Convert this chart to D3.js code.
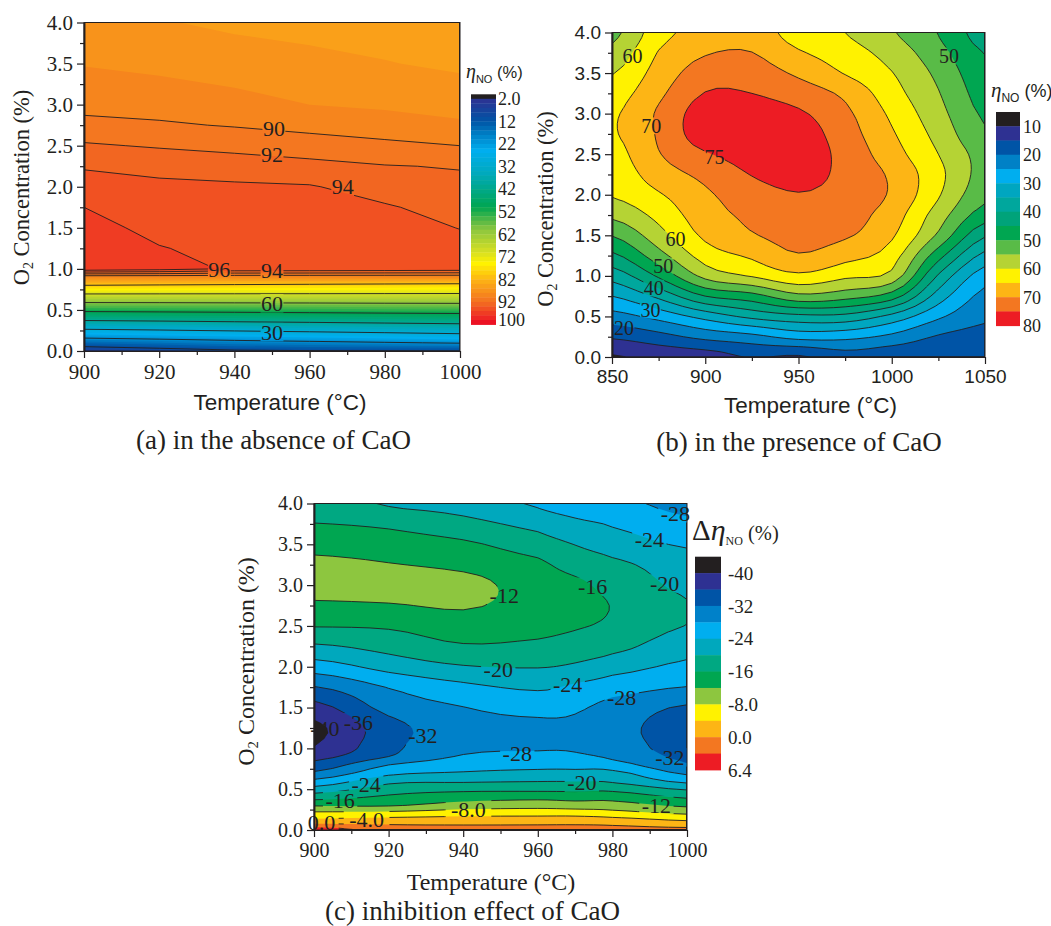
<!DOCTYPE html>
<html>
<head>
<meta charset="utf-8">
<script src="https://cdn.jsdelivr.net/npm/d3@7"></script>
<style>
  html, body { margin: 0; background: #fff; }
  text { fill: #231f20; }
  .serif { font-family: "Liberation Serif", serif; }
  .sans { font-family: "Liberation Sans", sans-serif; }
</style>
</head>
<body>
<svg id="chart" width="1051" height="926"></svg>
<script>
// panel (a) - absence of CaO, rows go from low O2 to high O2
const tempsA = [900, 920, 940, 960, 980, 1000];
const o2A = [0, 0.1, 0.2, 0.3, 0.4, 0.5, 0.6, 0.7, 0.8, 0.9, 1, 1.25, 1.5, 1.75, 2, 2.25, 2.5, 2.75, 3, 3.5, 4];
const gridA = [
  [4.8, 7, 9, 9.6, 9.8, 10],
  [14.6, 16, 17.5, 18.5, 19.5, 20.5],
  [24, 25, 26, 27, 28, 29.1],
  [33.3, 34, 35, 35.8, 36.7, 37.5],
  [42.7, 43.3, 43.9, 44.4, 44.9, 45.4],
  [51.8, 52.1, 52.4, 52.8, 53.2, 53.5],
  [60.9, 61, 61.2, 61.3, 61.5, 61.6],
  [70.5, 70.4, 70.3, 70.2, 70.1, 70],
  [80, 79.6, 79.2, 78.8, 78.4, 78],
  [88.5, 88.5, 88.5, 88.5, 88.5, 88.5],
  [97.5, 96.9, 95.7, 95.6, 95.4, 95.2],
  [97, 96.07, 95.6, 95.4, 95.1, 94.6],
  [96.5, 95.6, 95.2, 95.1, 94.75, 93.95],
  [96, 95, 94.8, 94.7, 94.2, 93.25],
  [94.95, 94.4, 94.3, 94.15, 93.15, 92.55],
  [93.8, 93.45, 93.03, 92.6, 92.1, 91.87],
  [92.25, 91.8, 91.4, 90.93, 90.47, 90],
  [90.6, 90.25, 89.86, 89.39, 88.9, 88.3],
  [89.35, 89.2, 88.7, 88, 87.68, 87.3],
  [87.9, 87.5, 87, 86.57, 86.1, 85.6],
  [86.7, 86.15, 85.6, 85.3, 85, 84.5]
];
const levelsA = d3.range(2, 101, 2);
const linesA = [10, 20, 30, 40, 50, 60, 70, 80, 90, 92, 94, 96];
const legendTicksA = [2, 12, 22, 32, 42, 52, 62, 72, 82, 92, 100];
const labelsA = [["90", 950.5, 2.71], ["92", 950, 2.39], ["94", 968.8, 2], ["96", 936, 0.99],
  ["94", 950, 0.98], ["60", 950, 0.58], ["30", 950, 0.23]];

// panel (b) - presence of CaO, one array per temperature
const tempsB = [850, 875, 900, 925, 950, 975, 1000, 1025, 1050];
const o2B = [0, 0.25, 0.5, 0.75, 1, 1.25, 1.5, 1.75, 2, 2.25, 2.5, 2.75, 3, 3.25, 3.5, 3.75, 4];
const gridB = d3.transpose([
  [9.5, 15.7, 23, 30, 37, 43.9, 50.2, 56.1, 60.4, 61.8, 63, 64.4, 64.2, 62.5, 59.7, 56.5, 53.5],
  [11.5, 18.2, 26.7, 36.2, 45.8, 53, 58, 61.5, 64.5, 67.5, 69.7, 70.6, 70.7, 68.9, 67, 65.3, 63],
  [12.5, 21.5, 31.8, 45, 56.5, 62.2, 66, 67.9, 69.2, 71.3, 74.5, 77.8, 77.5, 75.2, 72.4, 69.6, 67],
  [15.3, 23.5, 36.3, 48, 60.4, 65.8, 69.6, 71, 72.6, 75.2, 77, 78, 77, 75, 72.4, 70.1, 67.8],
  [14.3, 26.8, 38.6, 53.6, 63.9, 69.6, 71.7, 73, 74.7, 77.2, 78, 77.5, 75.7, 72.7, 69.1, 65.6, 62.5],
  [17.8, 26.5, 38.5, 51.9, 61, 66.7, 70.6, 72, 73, 73.5, 73.3, 72.3, 71.1, 68.9, 64.7, 62.3, 60],
  [16.5, 23.8, 33.5, 47.5, 58.3, 62.4, 65.7, 67.5, 69.4, 69.2, 67.2, 65.6, 64, 62, 60.2, 58, 55.5],
  [15.7, 19.5, 25.9, 32.7, 39.4, 47, 54.1, 57.5, 60.5, 61.4, 60, 58.3, 56.7, 55.3, 53.8, 51.8, 49.8],
  [15.5, 18, 21, 23.5, 27.3, 33.5, 40.6, 47.5, 51.3, 53, 53, 50.7, 49.2, 47.8, 46.5, 44.8, 42.5]
]);
const levelsB = d3.range(10, 81, 5);
const linesB = d3.range(10, 76, 5);
const legendTicksB = [10, 20, 30, 40, 50, 60, 70, 80];
const labelsB = [["60", 861, 3.71], ["50", 1030.7, 3.71], ["70", 871, 2.85], ["75", 905, 2.47], ["60", 884, 1.46],
  ["50", 877.5, 1.12], ["40", 872.4, 0.85], ["30", 870.6, 0.575], ["20", 856.5, 0.36]];
const colorsB = ["#231f20", "#2e3192", "#0054a6", "#0081c6", "#00aeef", "#00a6c0", "#00a79d", "#00a37a",
  "#00a651", "#59bb47", "#b5d334", "#fff200", "#fdb515", "#f37721", "#ed1c24"];

// panel (c) - inhibition effect, one array per temperature
const tempsC = [900, 920, 940, 960, 970, 980, 1000];
const o2C = [0, 0.1, 0.2, 0.3, 0.4, 0.5, 0.6, 0.7, 0.8, 0.9, 1, 1.25, 1.5, 1.75, 2, 2.25, 2.5, 2.75, 3, 3.25, 3.5, 3.75, 4];
const gridC = d3.transpose([
  [6.4, -1.9, -6.8, -12.3, -17.5, -22.4, -27.1, -31.4, -34.7, -37.4, -39.8, -41, -37.5, -32.2, -26, -20.6, -15.8, -12.6, -10.8, -11, -13.4, -15.9, -17.8],
  [2.3, -1.5, -6.4, -12.3, -15.2, -18, -21.2, -25.1, -28.1, -32, -33, -33.6, -30.6, -27.8, -22.6, -18.6, -15.5, -12.3, -10.5, -11.8, -14.2, -16.7, -20.4],
  [1.7, -1.4, -5.4, -10.2, -13.7, -17, -20.6, -23.7, -25.7, -27.6, -29, -29.6, -28.1, -25, -20.3, -16.4, -13.9, -11.6, -10.7, -12.9, -15.3, -18.7, -21.6],
  [1.7, -1.3, -5.2, -9.5, -13.1, -17, -20.2, -23.1, -25.1, -27.1, -28.3, -28.9, -26.7, -23.4, -19.8, -16.9, -14.6, -13.5, -13.8, -15.1, -18.1, -21.2, -24.5],
  [1.6, -1.2, -5.3, -10, -13.5, -17, -20.2, -23.1, -25.1, -27.3, -28.4, -28.8, -27.4, -24.7, -20.6, -17.8, -15.6, -14.4, -15, -17.6, -20.1, -23.1, -25.9],
  [1.3, -1.5, -6.2, -10.2, -13.4, -17, -20.6, -23, -26.4, -28.8, -30.1, -30.7, -29.5, -26.2, -22.4, -18.8, -16.9, -16.2, -17.6, -19.1, -21.9, -24.4, -27.1],
  [1, -3.3, -8.3, -12.7, -16.4, -20.4, -25.1, -28.8, -31.6, -33, -33.6, -33.9, -32.5, -28.1, -24.9, -22.5, -20.1, -19.8, -20.8, -22, -24.5, -27.2, -29]
]);
const levelsC = [-40, -36, -32, -28, -24, -20, -16, -12, -8, -4, 0, 4, 6.4];
const linesC = [-40, -36, -32, -28, -24, -20, -16, -12, -8, -4, 0, 4];
const legendTicksC = [[-40, "-40"], [-32, "-32"], [-24, "-24"], [-16, "-16"], [-8, "-8.0"], [0, "0.0"], [6.4, "6.4"]];
const labelsC = [["-28", 996.9, 3.88], ["-24", 989.9, 3.56], ["-20", 994, 3.02], ["-16", 974.7, 2.98], ["-12", 951, 2.87],
  ["-20", 949.4, 1.97], ["-24", 968, 1.79], ["-28", 982.5, 1.62], ["-36", 911.9, 1.32], ["-40", 902.9, 1.245],
  ["-32", 929.2, 1.155], ["-28", 954.5, 0.94], ["-32", 995.4, 0.89], ["-24", 914, 0.56], ["-20", 971.8, 0.58],
  ["-16", 907, 0.367], ["-12", 991.8, 0.306], ["-8.0", 941.4, 0.253], ["-4.0", 914.1, 0.135], ["0.0", 902, 0.09]];
const colorsC = ["#231f20", "#2e3192", "#0054a6", "#0081c9", "#00aeef", "#00a8bd", "#00a882", "#00a651",
  "#8dc63f", "#fff200", "#fdb515", "#f37721", "#ed1c24"];

// continuous palette of panel (a), sampled once per 2% band
const paletteA = d3.scaleLinear()
  .domain([2, 12, 18, 25, 35, 42, 50, 60, 70, 75, 82, 92, 100])
  .range(["#2e3192", "#0054a6", "#0081c6", "#00aeef", "#00a9bd", "#00a88a", "#00a651", "#8dc63f", "#d7df23", "#fff200", "#fdb515", "#f37021", "#ed1c24"]);
const colorsA = ["#231f20"].concat(levelsA.map(d => paletteA(d + 1)));

const svg = d3.select("#chart");
const fmt1 = d3.format(".1f");

// catmull-rom resampling of one row, only so the contour outlines come out round
function resampleRow(row, k) {
  const out = [];
  for (let i = 0; i < row.length - 1; i++) {
    const p0 = row[Math.max(i - 1, 0)], p1 = row[i], p2 = row[i + 1], p3 = row[Math.min(i + 2, row.length - 1)];
    for (let s = 0; s < k; s++) {
      const t = s / k;
      out.push(0.5 * (2 * p1 + (p2 - p0) * t + (2 * p0 - 5 * p1 + 4 * p2 - p3) * t * t + (3 * p1 - p0 - 3 * p2 + p3) * t * t * t));
    }
  }
  out.push(row[row.length - 1]);
  return out;
}
function resampleGrid(grid, k) {
  const wide = grid.map(r => resampleRow(r, k));
  return d3.transpose(d3.transpose(wide).map(c => resampleRow(c, k)));
}

function drawPanel(cfg) {
  const g = svg.append("g");
  const x = d3.scaleLinear().domain(d3.extent(cfg.temps)).range([cfg.left, cfg.right]);
  const y = d3.scaleLinear().domain([0, 4]).range([cfg.bottom, cfg.top]);

  const k = cfg.resample;
  const fine = k > 1 ? resampleGrid(cfg.grid, k) : cfg.grid;

  // d3.contours works on a regular index grid, so map index -> real axis values
  const iToT = d3.scaleLinear().domain(d3.range(cfg.temps.length)).range(cfg.temps).clamp(true);
  const jToO = d3.scaleLinear().domain(d3.range(cfg.o2.length)).range(cfg.o2).clamp(true);
  const path = d3.geoPath(d3.geoTransform({
    point(px, py) { this.stream.point(x(iToT((px - 0.5) / k)), y(jToO((py - 0.5) / k))); }
  }));
  const contours = d3.contours().size([fine[0].length, fine.length]);
  const flat = fine.flat();

  const clipId = "clip" + cfg.id;
  const maskId = "mask" + cfg.id;
  const defs = g.append("defs");
  defs.append("clipPath").attr("id", clipId).append("rect")
    .attr("x", cfg.left).attr("y", cfg.top)
    .attr("width", cfg.right - cfg.left).attr("height", cfg.bottom - cfg.top);

  const plot = g.append("g").attr("clip-path", `url(#${clipId})`);
  plot.append("rect")
    .attr("x", cfg.left).attr("y", cfg.top)
    .attr("width", cfg.right - cfg.left).attr("height", cfg.bottom - cfg.top)
    .attr("fill", cfg.colors[0]);

  // filled bands, each one painted over the previous
  plot.selectAll("path.band")
    .data(cfg.levels.map(t => contours.contour(flat, t)))
    .enter().append("path")
    .attr("class", "band")
    .attr("d", path)
    .attr("fill", (d, i) => cfg.colors[i + 1] || cfg.colors[cfg.colors.length - 1]);

  // gaps in the lines where the labels sit
  const mask = defs.append("mask").attr("id", maskId).attr("maskUnits", "userSpaceOnUse")
    .attr("x", 0).attr("y", 0).attr("width", 1051).attr("height", 926);
  mask.append("rect").attr("width", 1051).attr("height", 926).attr("fill", "#fff");
  mask.selectAll("rect.gap")
    .data(cfg.labels)
    .enter().append("rect")
    .attr("class", "gap")
    .attr("x", d => x(d[1]) - d[0].length * cfg.labelSize * 0.26)
    .attr("y", d => y(d[2]) - cfg.labelSize * 0.42)
    .attr("width", d => d[0].length * cfg.labelSize * 0.52)
    .attr("height", cfg.labelSize * 0.84)
    .attr("fill", "#000");

  plot.append("g").attr("mask", `url(#${maskId})`)
    .selectAll("path.line")
    .data(cfg.lines.map(t => contours.contour(flat, t)))
    .enter().append("path")
    .attr("class", "line")
    .attr("d", path)
    .attr("fill", "none")
    .attr("stroke", "#231f20")
    .attr("stroke-width", 0.9);

  g.selectAll("text.clabel")
    .data(cfg.labels)
    .enter().append("text")
    .attr("class", "clabel serif")
    .attr("x", d => x(d[1]))
    .attr("y", d => y(d[2]))
    .attr("dy", "0.35em")
    .attr("text-anchor", "middle")
    .style("font-size", cfg.labelSize + "px")
    .text(d => d[0]);

  // frame
  g.append("rect")
    .attr("x", cfg.left).attr("y", cfg.top)
    .attr("width", cfg.right - cfg.left).attr("height", cfg.bottom - cfg.top)
    .attr("fill", "none").attr("stroke", "#231f20").attr("stroke-width", 1);

  // axes, major + minor ticks
  const xAxis = g.append("g").attr("class", cfg.xTickFont)
    .attr("transform", `translate(0,${cfg.bottom})`)
    .call(d3.axisBottom(x).tickValues(cfg.xTicks).tickFormat(d3.format("d")).tickSize(7).tickSizeOuter(0).tickPadding(cfg.xPad));
  const yAxis = g.append("g").attr("class", cfg.xTickFont)
    .attr("transform", `translate(${cfg.left},0)`)
    .call(d3.axisLeft(y).tickValues(d3.range(0, 4.01, 0.5)).tickFormat(fmt1).tickSize(7).tickSizeOuter(0).tickPadding(cfg.yPad));
  const xMinor = g.append("g").attr("transform", `translate(0,${cfg.bottom})`)
    .call(d3.axisBottom(x).tickValues(cfg.xMinor).tickFormat("").tickSize(4).tickSizeOuter(0));
  const yMinor = g.append("g").attr("transform", `translate(${cfg.left},0)`)
    .call(d3.axisLeft(y).tickValues(d3.range(0.25, 4, 0.5)).tickFormat("").tickSize(4).tickSizeOuter(0));
  [xAxis, yAxis, xMinor, yMinor].forEach(a => {
    a.selectAll("path, line").attr("stroke", "#231f20").attr("stroke-width", 1.2);
    a.selectAll("text").style("font-size", cfg.tickSize + "px").attr("fill", "#231f20");
    a.attr("font-family", null).attr("font-size", null);
  });
  yAxis.select("path").attr("stroke-width", 1.8);

  // axis titles
  g.append("text").attr("class", cfg.xTitleFont)
    .attr("x", cfg.xTitle[0]).attr("y", cfg.xTitle[1])
    .attr("text-anchor", "middle")
    .style("font-size", cfg.xTitleSize + "px")
    .text("Temperature (°C)");

  const yTitle = g.append("text").attr("class", "serif")
    .attr("transform", `translate(${cfg.yTitle[0]},${cfg.yTitle[1]}) rotate(-90)`)
    .attr("text-anchor", "middle")
    .style("font-size", cfg.yTitleSize + "px");
  yTitle.append("tspan").text("O");
  yTitle.append("tspan").attr("dy", "0.3em").style("font-size", "0.62em").text("2");
  yTitle.append("tspan").attr("dy", "-0.19em").text(" Concentration (%)");

  // caption
  g.append("text").attr("class", "serif")
    .attr("x", cfg.caption[0]).attr("y", cfg.caption[1])
    .attr("text-anchor", "middle")
    .style("font-size", cfg.captionSize + "px")
    .text(cfg.captionText);

  // colour legend
  const legY = cfg.legendScale;
  const leg = g.append("g");
  leg.selectAll("rect")
    .data(cfg.colors)
    .enter().append("rect")
    .attr("x", cfg.legendX[0])
    .attr("width", cfg.legendX[1] - cfg.legendX[0])
    .attr("y", (d, i) => legY(i))
    .attr("height", (d, i) => legY(i + 1) - legY(i) + 0.4)
    .attr("fill", d => d);
  leg.selectAll("text")
    .data(cfg.legendTicks)
    .enter().append("text")
    .attr("class", "serif")
    .attr("x", cfg.legendX[2])
    .attr("y", d => legY(cfg.levels.indexOf(d[0]) + 1))
    .attr("dy", "0.35em")
    .style("font-size", cfg.legendFont + "px")
    .text(d => d[1]);

  const title = g.append("text").attr("x", cfg.legendTitle[0]).attr("y", cfg.legendTitle[1]);
  cfg.legendTitleParts(title);
}

drawPanel({
  id: "A", temps: tempsA, o2: o2A, grid: gridA, resample: 1, levels: levelsA, lines: linesA, colors: colorsA, labels: labelsA,
  left: 84, right: 460, top: 22.5, bottom: 351, labelSize: 22,
  xTicks: [900, 920, 940, 960, 980, 1000], xMinor: [910, 930, 950, 970, 990], xTickFont: "serif", tickSize: 21, xPad: 6, yPad: 4,
  xTitleFont: "sans", xTitleSize: 22.5, xTitle: [280, 410], yTitle: [29, 187.5], yTitleSize: 22.5,
  caption: [273.5, 449], captionSize: 27, captionText: "(a) in the absence of CaO",
  legendScale: d3.scaleLinear().domain([0, 50]).range([94.3, 320]), legendX: [471, 496, 498], legendFont: 18,
  legendTicks: legendTicksA.map(d => [d, d === 2 ? "2.0" : String(d)]),
  legendTitle: [466, 78],
  legendTitleParts: t => {
    t.append("tspan").attr("class", "serif").style("font-size", "20px").style("font-style", "italic").text("η");
    t.append("tspan").attr("class", "sans").attr("dy", 5).style("font-size", "11px").text("NO");
    t.append("tspan").attr("class", "sans").attr("dy", -5).style("font-size", "16.5px").text(" (%)");
  }
});

drawPanel({
  id: "B", temps: tempsB, o2: o2B, grid: gridB, resample: 4, levels: levelsB, lines: linesB, colors: colorsB, labels: labelsB,
  left: 612, right: 985, top: 32.5, bottom: 357, labelSize: 20,
  xTicks: [850, 900, 950, 1000, 1050], xMinor: [875, 925, 975, 1025], xTickFont: "sans", tickSize: 19, xPad: 6, yPad: 4,
  xTitleFont: "sans", xTitleSize: 22.5, xTitle: [810.5, 413], yTitle: [553, 209], yTitleSize: 22.5,
  caption: [799, 451], captionSize: 27, captionText: "(b) in the presence of CaO",
  legendScale: d3.scaleLinear().domain([0, 15]).range([112, 325.7]), legendX: [996, 1020, 1023], legendFont: 18,
  legendTicks: legendTicksB.map(d => [d, String(d)]),
  legendTitle: [991, 97],
  legendTitleParts: t => {
    t.append("tspan").attr("class", "serif").style("font-size", "21px").style("font-style", "italic").text("η");
    t.append("tspan").attr("class", "sans").attr("dy", 5).style("font-size", "12px").text("NO");
    t.append("tspan").attr("class", "sans").attr("dy", -5).style("font-size", "18px").text(" (%)");
  }
});

drawPanel({
  id: "C", temps: tempsC, o2: o2C, grid: gridC, resample: 4, levels: levelsC, lines: linesC, colors: colorsC, labels: labelsC,
  left: 314, right: 687, top: 503.5, bottom: 830, labelSize: 22,
  xTicks: [900, 920, 940, 960, 980, 1000], xMinor: [910, 930, 950, 970, 990], xTickFont: "serif", tickSize: 20, xPad: 6, yPad: 4,
  xTitleFont: "serif", xTitleSize: 24, xTitle: [491, 890], yTitle: [254, 661.5], yTitleSize: 24,
  caption: [472.5, 920], captionSize: 27, captionText: "(c) inhibition effect of CaO",
  legendScale: d3.scaleLinear().domain([0, 13]).range([556.7, 770]), legendX: [695, 721, 728], legendFont: 19,
  legendTicks: legendTicksC,
  legendTitle: [692, 540],
  legendTitleParts: t => {
    t.append("tspan").attr("class", "serif").style("font-size", "29px").text("Δ");
    t.append("tspan").attr("class", "serif").style("font-size", "30px").style("font-style", "italic").text("η");
    t.append("tspan").attr("class", "serif").attr("dy", 5).style("font-size", "12px").text("NO");
    t.append("tspan").attr("class", "serif").attr("dy", -5).style("font-size", "20.5px").text(" (%)");
  }
});
</script>
</body>
</html>
